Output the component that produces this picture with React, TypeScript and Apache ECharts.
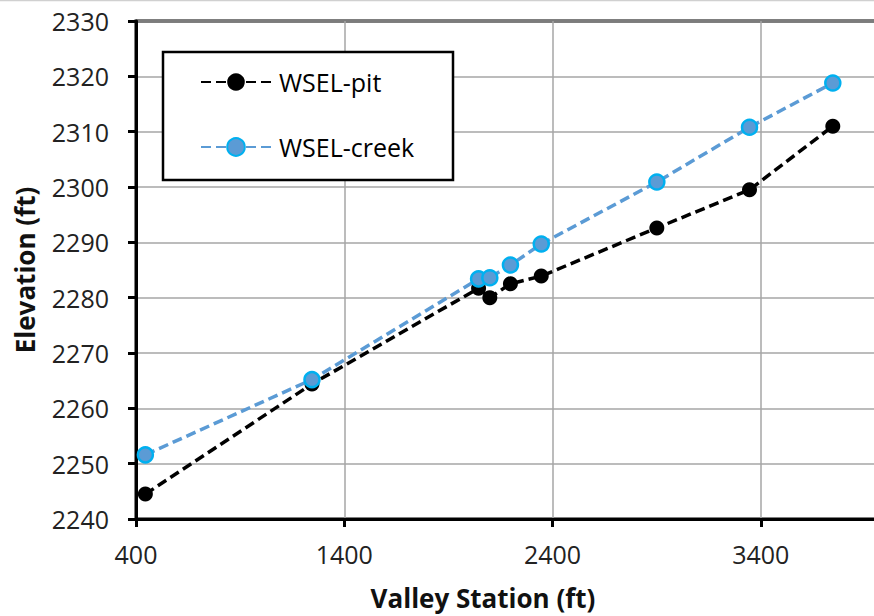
import React, { useEffect, useRef } from "react";
import * as echarts from "echarts";

const stations = [445, 1245, 2045, 2099, 2198, 2346, 2901, 3346, 3746];
const wselPit = [2244.5, 2264.4, 2281.7, 2280.0, 2282.5, 2283.9, 2292.6, 2299.5, 2311.0];
const wselCreek = [2251.6, 2265.2, 2283.4, 2283.6, 2285.9, 2289.7, 2300.9, 2310.8, 2318.8];
const seriesNames = ["WSEL-pit", "WSEL-creek"];
const xTitle = "Valley Station (ft)";
const yTitle = "Elevation (ft)";

const FONT = "Open Sans";
const CHART_W = 1000;

export default function App() {
  const ref = useRef<HTMLDivElement>(null);
  useEffect(() => {
    if (!ref.current) return;
    const chart = echarts.init(ref.current, undefined, { renderer: "svg" });
    const pitData = stations.map((x, i) => [x, wselPit[i]]);
    const creekData = stations.map((x, i) => [x, wselCreek[i]]);
    chart.setOption({
      animation: false,
      backgroundColor: "#fff",
      textStyle: { fontFamily: FONT },
      grid: {
        left: 136,
        top: 21,
        bottom: 97,
        right: CHART_W - 969,
        show: true,
        borderColor: "#000",
        borderWidth: 3,
        backgroundColor: "transparent",
      },
      xAxis: {
        type: "value",
        min: 400,
        max: 4400,
        interval: 1000,
        axisLine: { show: true, onZero: false, lineStyle: { color: "#000", width: 3 } },
        axisTick: { show: true, length: 8, lineStyle: { color: "#000", width: 3 } },
        axisLabel: {
          color: "#222",
          fontSize: 25,
          fontFamily: FONT,
          margin: 22,
          showMaxLabel: false,
          formatter: (v: number) => String(v),
        },
        splitLine: { show: true, lineStyle: { color: "#a6a6a6", width: 1.5 } },
      },
      yAxis: {
        type: "value",
        min: 2240,
        max: 2330,
        interval: 10,
        axisLine: { show: true, onZero: false, lineStyle: { color: "#000", width: 3 } },
        axisTick: { show: true, length: 8, lineStyle: { color: "#000", width: 3 } },
        axisLabel: { color: "#222", fontSize: 25, fontFamily: FONT, margin: 27, formatter: (v: number) => String(v) },
        splitLine: { show: true, lineStyle: { color: "#a6a6a6", width: 1.5 } },
      },
      legend: {
        orient: "vertical",
        left: 163,
        top: 52,
        padding: [16, 10, 18, 37],
        itemGap: 37,
        itemWidth: 70,
        itemHeight: 22,
        z: 10,
        textStyle: { fontSize: 25, color: "#000", fontFamily: FONT, lineHeight: 28, padding: [0, 0, 0, 3] },
        data: seriesNames,
      },
      graphic: [
        {
          type: "rect",
          z: 5,
          shape: { x: 163, y: 52, width: 290, height: 128 },
          style: { fill: "#fff", stroke: "#000", lineWidth: 2.5 },
        },
        {
          type: "line",
          z: 5,
          shape: { x1: 0, y1: 0.5, x2: 874, y2: 0.5 },
          style: { stroke: "#d0d0d0", lineWidth: 1.5 },
        },
        {
          type: "text",
          x: 483,
          y: 598,
          z: 5,
          style: {
            text: xTitle,
            font: `bold 26px "${FONT}"`,
            fill: "#111",
            align: "center",
            verticalAlign: "middle",
          },
        },
        {
          type: "text",
          x: 25,
          y: 270,
          rotation: Math.PI / 2,
          z: 5,
          style: {
            text: yTitle,
            font: `bold 26px "${FONT}"`,
            fill: "#111",
            align: "center",
            verticalAlign: "middle",
          },
        },
      ],
      series: [
        {
          name: seriesNames[0],
          type: "line",
          data: pitData,
          symbol: "circle",
          symbolSize: 15,
          lineStyle: { color: "#000", width: 3.5, type: [10, 5] },
          itemStyle: { color: "#000", borderColor: "#000", borderWidth: 0 },
          z: 3,
        },
        {
          name: seriesNames[1],
          type: "line",
          data: creekData,
          symbol: "circle",
          symbolSize: 15,
          lineStyle: { color: "#5b9bd5", width: 3.5, type: [10, 5] },
          itemStyle: { color: "#5b9bd5", borderColor: "#00b0f0", borderWidth: 2.5 },
          z: 4,
        },
      ],
    });
    return () => chart.dispose();
  }, []);
  return (
    <div style={{ position: "fixed", left: 0, top: 0, width: 874, height: 616, overflow: "hidden" }}>
      <div ref={ref} style={{ width: CHART_W, height: 616 }} />
    </div>
  );
}
